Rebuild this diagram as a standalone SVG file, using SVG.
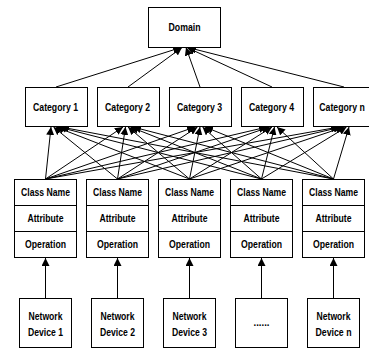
<svg xmlns="http://www.w3.org/2000/svg" width="369" height="353" viewBox="0 0 369 353">
  <style>
    .box { fill: #ffffff; stroke: #000000; stroke-width: 1; }
    .lbl { font-family: "Liberation Sans", Arial, sans-serif; font-weight: bold; font-size: 10px; fill: #000000; text-anchor: middle; dominant-baseline: central; }
    .edge { stroke: #000000; stroke-width: 1; fill: none; marker-end: url(#arrow); }
  </style>
  <defs>
    <marker id="arrow" markerUnits="userSpaceOnUse" markerWidth="9" markerHeight="8" refX="8" refY="4" orient="auto">
      <path d="M0,0 L8,4 L0,8 Z" fill="#000000"/>
    </marker>
  </defs>
  <rect width="369" height="353" fill="#ffffff"/>

  <!-- connectors -->
  <g id="connectors">
    <!-- categories to domain -->
    <line class="edge" x1="56" y1="87" x2="181" y2="47.5"/>
    <line class="edge" x1="128" y1="87" x2="182" y2="47.5"/>
    <line class="edge" x1="200" y1="87" x2="186" y2="47.5"/>
    <line class="edge" x1="272" y1="87" x2="187" y2="47.5"/>
    <line class="edge" x1="344" y1="87" x2="188" y2="47.5"/>
    <!-- classes to categories -->
    <line class="edge" x1="45.5" y1="179" x2="51" y2="127"/>
    <line class="edge" x1="45.5" y1="179" x2="123" y2="127"/>
    <line class="edge" x1="45.5" y1="179" x2="195" y2="127"/>
    <line class="edge" x1="45.5" y1="179" x2="267" y2="127"/>
    <line class="edge" x1="45.5" y1="179" x2="339" y2="127"/>
    <line class="edge" x1="117.5" y1="179" x2="53.5" y2="127"/>
    <line class="edge" x1="117.5" y1="179" x2="125.5" y2="127"/>
    <line class="edge" x1="117.5" y1="179" x2="197.5" y2="127"/>
    <line class="edge" x1="117.5" y1="179" x2="269.5" y2="127"/>
    <line class="edge" x1="117.5" y1="179" x2="341.5" y2="127"/>
    <line class="edge" x1="189.5" y1="179" x2="56" y2="127"/>
    <line class="edge" x1="189.5" y1="179" x2="128" y2="127"/>
    <line class="edge" x1="189.5" y1="179" x2="200" y2="127"/>
    <line class="edge" x1="189.5" y1="179" x2="272" y2="127"/>
    <line class="edge" x1="189.5" y1="179" x2="344" y2="127"/>
    <line class="edge" x1="261.5" y1="179" x2="58.5" y2="127"/>
    <line class="edge" x1="261.5" y1="179" x2="130.5" y2="127"/>
    <line class="edge" x1="261.5" y1="179" x2="202.5" y2="127"/>
    <line class="edge" x1="261.5" y1="179" x2="274.5" y2="127"/>
    <line class="edge" x1="261.5" y1="179" x2="346.5" y2="127"/>
    <line class="edge" x1="333.5" y1="179" x2="61" y2="127"/>
    <line class="edge" x1="333.5" y1="179" x2="133" y2="127"/>
    <line class="edge" x1="333.5" y1="179" x2="205" y2="127"/>
    <line class="edge" x1="333.5" y1="179" x2="277" y2="127"/>
    <line class="edge" x1="333.5" y1="179" x2="349" y2="127"/>
    <!-- devices to classes -->
    <line class="edge" x1="45.5" y1="298" x2="45.5" y2="258"/>
    <line class="edge" x1="117.5" y1="298" x2="117.5" y2="258"/>
    <line class="edge" x1="189.5" y1="298" x2="189.5" y2="258"/>
    <line class="edge" x1="261.5" y1="298" x2="261.5" y2="258"/>
    <line class="edge" x1="333.5" y1="298" x2="333.5" y2="258"/>
  </g>

  <!-- domain -->
  <g id="domain">
    <rect class="box" x="148.5" y="7.5" width="72" height="40"/>
    <text class="lbl" x="184.5" y="27" textLength="32" lengthAdjust="spacingAndGlyphs">Domain</text>
  </g>

  <!-- categories -->
  <g id="category-1">
    <rect class="box" x="25.5" y="87.5" width="62" height="39"/>
    <text class="lbl" x="55.5" y="107" textLength="45" lengthAdjust="spacingAndGlyphs">Category 1</text>
  </g>
  <g id="category-2">
    <rect class="box" x="97.5" y="87.5" width="62" height="39"/>
    <text class="lbl" x="127.5" y="107" textLength="45" lengthAdjust="spacingAndGlyphs">Category 2</text>
  </g>
  <g id="category-3">
    <rect class="box" x="169.5" y="87.5" width="62" height="39"/>
    <text class="lbl" x="199.5" y="107" textLength="45" lengthAdjust="spacingAndGlyphs">Category 3</text>
  </g>
  <g id="category-4">
    <rect class="box" x="241.5" y="87.5" width="62" height="39"/>
    <text class="lbl" x="271.5" y="107" textLength="45" lengthAdjust="spacingAndGlyphs">Category 4</text>
  </g>
  <g id="category-n">
    <rect class="box" x="313.5" y="87.5" width="62" height="39"/>
    <text class="lbl" x="342" y="107" textLength="45.5" lengthAdjust="spacingAndGlyphs">Category n</text>
  </g>

  <!-- classes -->
  <g id="class-1">
    <rect class="box" x="14.5" y="179.5" width="62" height="78"/>
    <line class="box" x1="14.5" y1="205.5" x2="76.5" y2="205.5"/>
    <line class="box" x1="14.5" y1="231.5" x2="76.5" y2="231.5"/>
    <text class="lbl" x="45.5" y="192.5" textLength="49" lengthAdjust="spacingAndGlyphs">Class Name</text>
    <text class="lbl" x="45.5" y="218.5" textLength="36" lengthAdjust="spacingAndGlyphs">Attribute</text>
    <text class="lbl" x="45.5" y="244.5" textLength="41" lengthAdjust="spacingAndGlyphs">Operation</text>
  </g>
  <g id="class-2">
    <rect class="box" x="86.5" y="179.5" width="62" height="78"/>
    <line class="box" x1="86.5" y1="205.5" x2="148.5" y2="205.5"/>
    <line class="box" x1="86.5" y1="231.5" x2="148.5" y2="231.5"/>
    <text class="lbl" x="117.5" y="192.5" textLength="49" lengthAdjust="spacingAndGlyphs">Class Name</text>
    <text class="lbl" x="117.5" y="218.5" textLength="36" lengthAdjust="spacingAndGlyphs">Attribute</text>
    <text class="lbl" x="117.5" y="244.5" textLength="41" lengthAdjust="spacingAndGlyphs">Operation</text>
  </g>
  <g id="class-3">
    <rect class="box" x="158.5" y="179.5" width="62" height="78"/>
    <line class="box" x1="158.5" y1="205.5" x2="220.5" y2="205.5"/>
    <line class="box" x1="158.5" y1="231.5" x2="220.5" y2="231.5"/>
    <text class="lbl" x="189.5" y="192.5" textLength="49" lengthAdjust="spacingAndGlyphs">Class Name</text>
    <text class="lbl" x="189.5" y="218.5" textLength="36" lengthAdjust="spacingAndGlyphs">Attribute</text>
    <text class="lbl" x="189.5" y="244.5" textLength="41" lengthAdjust="spacingAndGlyphs">Operation</text>
  </g>
  <g id="class-4">
    <rect class="box" x="230.5" y="179.5" width="62" height="78"/>
    <line class="box" x1="230.5" y1="205.5" x2="292.5" y2="205.5"/>
    <line class="box" x1="230.5" y1="231.5" x2="292.5" y2="231.5"/>
    <text class="lbl" x="261.5" y="192.5" textLength="49" lengthAdjust="spacingAndGlyphs">Class Name</text>
    <text class="lbl" x="261.5" y="218.5" textLength="36" lengthAdjust="spacingAndGlyphs">Attribute</text>
    <text class="lbl" x="261.5" y="244.5" textLength="41" lengthAdjust="spacingAndGlyphs">Operation</text>
  </g>
  <g id="class-5">
    <rect class="box" x="302.5" y="179.5" width="62" height="78"/>
    <line class="box" x1="302.5" y1="205.5" x2="364.5" y2="205.5"/>
    <line class="box" x1="302.5" y1="231.5" x2="364.5" y2="231.5"/>
    <text class="lbl" x="333.5" y="192.5" textLength="49" lengthAdjust="spacingAndGlyphs">Class Name</text>
    <text class="lbl" x="333.5" y="218.5" textLength="36" lengthAdjust="spacingAndGlyphs">Attribute</text>
    <text class="lbl" x="333.5" y="244.5" textLength="41" lengthAdjust="spacingAndGlyphs">Operation</text>
  </g>

  <!-- network devices -->
  <g id="device-1">
    <rect class="box" x="19.5" y="298.5" width="52" height="49"/>
    <text class="lbl" x="45.5" y="316" textLength="34" lengthAdjust="spacingAndGlyphs">Network</text>
    <text class="lbl" x="45.5" y="332" textLength="35" lengthAdjust="spacingAndGlyphs">Device 1</text>
  </g>
  <g id="device-2">
    <rect class="box" x="91.5" y="298.5" width="52" height="49"/>
    <text class="lbl" x="117.5" y="316" textLength="34" lengthAdjust="spacingAndGlyphs">Network</text>
    <text class="lbl" x="117.5" y="332" textLength="35" lengthAdjust="spacingAndGlyphs">Device 2</text>
  </g>
  <g id="device-3">
    <rect class="box" x="163.5" y="298.5" width="52" height="49"/>
    <text class="lbl" x="189.5" y="316" textLength="34" lengthAdjust="spacingAndGlyphs">Network</text>
    <text class="lbl" x="189.5" y="332" textLength="35" lengthAdjust="spacingAndGlyphs">Device 3</text>
  </g>
  <g id="device-more">
    <rect class="box" x="235.5" y="298.5" width="52" height="49"/>
    <text class="lbl" x="261.5" y="322" textLength="16" lengthAdjust="spacingAndGlyphs">......</text>
  </g>
  <g id="device-n">
    <rect class="box" x="307.5" y="298.5" width="52" height="49"/>
    <text class="lbl" x="333.5" y="316" textLength="34" lengthAdjust="spacingAndGlyphs">Network</text>
    <text class="lbl" x="333.5" y="332" textLength="36" lengthAdjust="spacingAndGlyphs">Device n</text>
  </g>
</svg>
